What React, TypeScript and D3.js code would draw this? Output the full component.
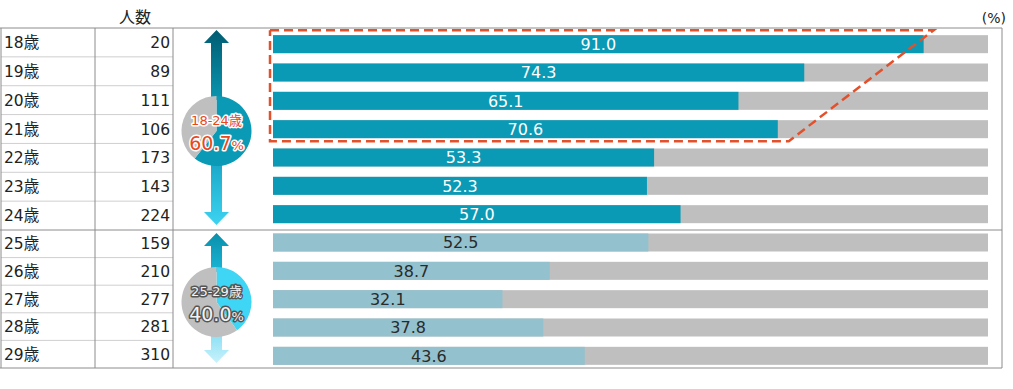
import React from "react";
import * as d3 from "d3";

// data
const ages = ["18歳", "19歳", "20歳", "21歳", "22歳", "23歳", "24歳", "25歳", "26歳", "27歳", "28歳", "29歳"];
const counts = [20, 89, 111, 106, 173, 143, 224, 159, 210, 277, 281, 310];
const rates = [91.0, 74.3, 65.1, 70.6, 53.3, 52.3, 57.0, 52.5, 38.7, 32.1, 37.8, 43.6];
const groupLabels = ["18-24歳", "25-29歳"];
const groupRates = [60.7, 40.0];
const highlightAges = ["18歳", "19歳", "20歳", "21歳"];

const W = 1013;
const H = 389;
const FONT = "'DejaVu Sans', 'Noto Sans CJK JP', sans-serif";

const C = {
  bar1: "#0a9ab5",
  bar2: "#93c1cd",
  rest: "#bfbfbf",
  border: "#8c8c8c",
  rowLine: "#cfcfcf",
  dash: "#e4502a",
  text: "#222",
};

export default function App() {
  const topAges = ages.slice(0, 7);
  const botAges = ages.slice(7);

  // table rows (two groups with slightly different heights)
  const rowTop = d3.scaleBand().domain(topAges).range([28, 230]);
  const rowBot = d3.scaleBand().domain(botAges).range([230, 368]);
  const rowY = (a: string) => (topAges.includes(a) ? rowTop(a)! : rowBot(a)!);
  const rowH = (a: string) => (topAges.includes(a) ? rowTop.bandwidth() : rowBot.bandwidth());

  // bars
  const y = d3.scaleBand().domain(ages).range([30, 370]);
  const barH = 18;
  const barY = (a: string) => y(a)! + (y.bandwidth() - barH) / 2;
  const x = d3.scaleLinear().domain([0, 100]).range([273, 988]);

  const pie = d3.pie<number>().sort(null);
  const arc = d3.arc<d3.PieArcDatum<number>>().innerRadius(0).outerRadius(35);

  // dashed highlight outline
  const hFirst = highlightAges[0];
  const hLast = highlightAges[highlightAges.length - 1];
  const hTop = barY(hFirst) - 5;
  const hBot = barY(hLast) + barH + 3;
  const hLeft = x(0) - 3;
  const dashPath = d3.line()([
    [hLeft, hTop],
    [x(rates[ages.indexOf(hFirst)]) + 10, hTop],
    [x(rates[ages.indexOf(hLast)]) + 11, hBot],
    [hLeft, hBot],
    [hLeft, hTop],
  ])!;

  const arrow = (cx: number, tip: number, base: number, up: boolean, fill: string) => {
    const headH = 13;
    const hw = 12.5;
    const sw = 5.5;
    const d = up ? 1 : -1;
    const neck = tip + d * headH;
    const pts: [number, number][] = [
      [cx, tip],
      [cx + hw, neck],
      [cx + sw, neck],
      [cx + sw, base],
      [cx - sw, base],
      [cx - sw, neck],
      [cx - hw, neck],
    ];
    return <path d={d3.line()(pts)! + "Z"} fill={fill} />;
  };

  const pies = [
    { cy: 131, colors: ["#0a9ab5", C.rest], label: groupLabels[0], rate: groupRates[0], fill: "#e8481c", stroke: "#fff" },
    { cy: 302, colors: ["#3fd5f4", C.rest], label: groupLabels[1], rate: groupRates[1], fill: "#f2f2f2", stroke: "#555" },
  ];
  const cx = 216.5;

  return (
    <svg width={W} height={H} style={{ position: "absolute", left: 0, top: 0, fontFamily: FONT }}>
      <defs>
        <linearGradient id="g1up" x1="0" y1="0" x2="0" y2="1">
          <stop offset="0" stopColor="#005c72" />
          <stop offset="1" stopColor="#0c95b0" />
        </linearGradient>
        <linearGradient id="g1down" x1="0" y1="0" x2="0" y2="1">
          <stop offset="0" stopColor="#1aa6c6" />
          <stop offset="1" stopColor="#3cd3f1" />
        </linearGradient>
        <linearGradient id="g2up" x1="0" y1="0" x2="0" y2="1">
          <stop offset="0" stopColor="#0a8fab" />
          <stop offset="1" stopColor="#1ab6d6" />
        </linearGradient>
        <linearGradient id="g2down" x1="0" y1="0" x2="0" y2="1">
          <stop offset="0" stopColor="#86def3" />
          <stop offset="1" stopColor="#c9f2fb" />
        </linearGradient>
      </defs>

      {/* headers */}
      <text x={135} y={23} textAnchor="middle" fontSize={16} fill={C.text}>人数</text>
      <text x={1006} y={23} textAnchor="end" fontSize={14} fill={C.text}>(%)</text>

      {/* table row lines */}
      {ages.map((a, i) =>
        i > 0 && i !== 7 ? (
          <line key={"rl" + a} x1={1} x2={173} y1={rowY(a)} y2={rowY(a)} stroke={C.rowLine} />
        ) : null
      )}

      {/* table text */}
      {ages.map((a, i) => (
        <g key={"t" + a} fontSize={15.5} fill={C.text}>
          <text x={4} y={rowY(a) + rowH(a) / 2} dy="0.36em">{a}</text>
          <text x={170} y={rowY(a) + rowH(a) / 2} dy="0.36em" textAnchor="end">{counts[i]}</text>
        </g>
      ))}

      {/* bars */}
      {ages.map((a, i) => (
        <g key={"b" + a}>
          <rect x={x(0)} y={barY(a)} width={x(100) - x(0)} height={barH} fill={C.rest} />
          <rect x={x(0)} y={barY(a)} width={x(rates[i]) - x(0)} height={barH} fill={i < 7 ? C.bar1 : C.bar2} />
          <text
            x={(x(0) + x(rates[i])) / 2}
            y={barY(a) + barH / 2}
            dy="0.37em"
            textAnchor="middle"
            fontSize={16}
            fill={i < 7 ? "#fff" : "#2a2a2a"}
          >
            {rates[i].toFixed(1)}
          </text>
        </g>
      ))}

      {/* outer frame */}
      <line x1={0} x2={1002} y1={28} y2={28} stroke={C.border} />
      <line x1={0} x2={1002} y1={230} y2={230} stroke={C.border} />
      <line x1={0} x2={1002} y1={368} y2={368} stroke={C.border} />
      <line x1={1002} x2={1002} y1={28} y2={368} stroke={C.border} />
      <line x1={1} x2={1} y1={28} y2={368} stroke={C.border} />
      <line x1={95} x2={95} y1={28} y2={368} stroke={C.border} />
      <line x1={173} x2={173} y1={28} y2={368} stroke={C.border} />

      {/* arrows */}
      {arrow(cx, 30, 100, true, "url(#g1up)")}
      {arrow(cx, 225, 160, false, "url(#g1down)")}
      {arrow(cx, 233, 272, true, "url(#g2up)")}
      {arrow(cx, 363, 332, false, "url(#g2down)")}

      {/* group pies */}
      {pies.map((p, gi) => (
        <g key={"p" + gi} transform={`translate(${cx},${p.cy})`}>
          {pie([p.rate, 100 - p.rate]).map((s, si) => (
            <path key={si} d={arc(s)!} fill={p.colors[si]} />
          ))}
          <text
            y={-11}
            dy="0.36em"
            textAnchor="middle"
            fontSize={13}
            fill={p.fill}
            stroke={p.stroke}
            strokeWidth={3}
            strokeLinejoin="round"
            style={{ paintOrder: "stroke" }}
          >
            {p.label}
          </text>
          <text
            y={12}
            dy="0.36em"
            textAnchor="middle"
            fontSize={19}
            fill={p.fill}
            stroke={p.stroke}
            strokeWidth={3}
            strokeLinejoin="round"
            style={{ paintOrder: "stroke" }}
          >
            {p.rate.toFixed(1)}
            <tspan fontSize={13}>%</tspan>
          </text>
        </g>
      ))}

      {/* highlight outline */}
      <path d={dashPath} fill="none" stroke={C.dash} strokeWidth={2.5} strokeDasharray="9,5" />
    </svg>
  );
}
